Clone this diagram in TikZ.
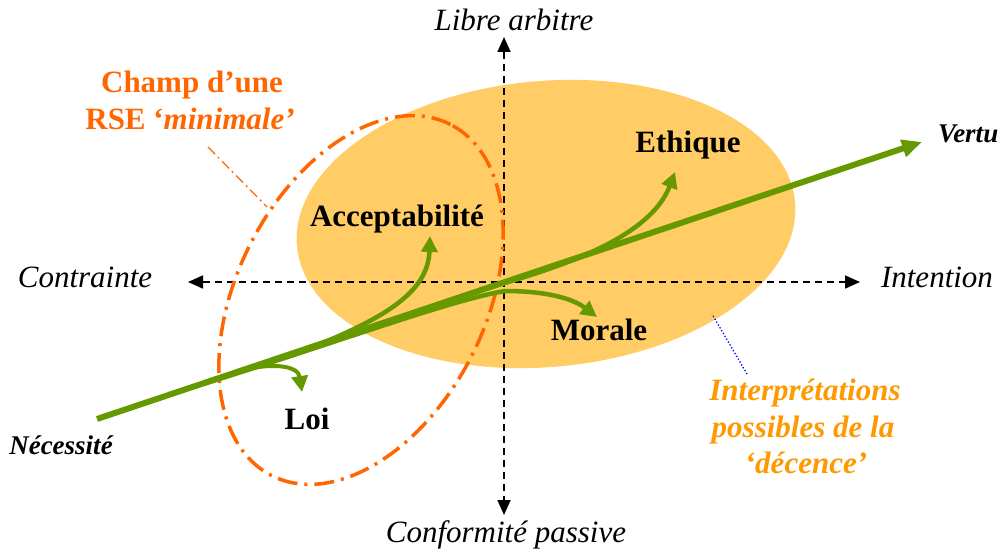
\documentclass[tikz,border=0pt]{standalone}
\usepackage{fontspec}
\setmainfont{Liberation Serif}
\usetikzlibrary{arrows.meta,shapes.geometric}
\definecolor{egg}{RGB}{255,204,102}
\definecolor{rse}{RGB}{255,102,0}
\definecolor{interp}{RGB}{255,153,0}
\definecolor{leaf}{RGB}{102,153,0}
\begin{document}
\begin{tikzpicture}[x=1pt,y=-1pt,
  axislbl/.style={font=\fontsize{31}{37}\selectfont\itshape, anchor=base, inner sep=0pt},
  termlbl/.style={font=\fontsize{31}{37}\selectfont\bfseries, anchor=base, inner sep=0pt},
  endlbl/.style={font=\fontsize{27}{32}\selectfont\bfseries\itshape, anchor=base, inner sep=0pt},
  rselbl/.style={font=\fontsize{31}{37}\selectfont\bfseries, text=rse, anchor=base, inner sep=0pt},
  interplbl/.style={font=\fontsize{31}{37}\selectfont\bfseries\itshape, text=interp, anchor=base, inner sep=0pt},
  axisline/.style={line width=1.8pt, dash pattern=on 7pt off 5pt, {Triangle[length=15pt,width=13pt]}-{Triangle[length=15pt,width=13pt]}},
  mainarrow/.style={leaf, line width=6pt, -{Triangle[length=20pt,width=17pt]}},
  brancharrow/.style={leaf, line width=4.5pt, -{Triangle[length=16pt,width=16pt]}},
  rseline/.style={draw=rse, line width=3.5pt, dash pattern=on 20pt off 7pt on 3pt off 7pt}
]
\useasboundingbox (0,0) rectangle (1000,553);

% big filled ellipse
\node[ellipse, fill=egg, minimum width=500pt, minimum height=286pt, inner sep=0pt, rotate=5] (decence) at (546,224) {};

% axes
\coordinate (top) at (504,37);
\coordinate (bot) at (504,515);
\coordinate (lft) at (188,282);
\coordinate (rgt) at (860,282);
\draw[axisline] (top) -- (bot);
\draw[axisline] (lft) -- (rgt);

% RSE minimal ellipse
\node[ellipse, rseline, minimum width=394pt, minimum height=248pt, inner sep=0pt, rotate=63] (rsefield) at (361,300) {};

% green arrows
\coordinate (nec) at (97,419);
\coordinate (vtip) at (922,142);
\coordinate (loitip) at (302,392);
\coordinate (acctip) at (430,236);
\coordinate (mortip) at (597,317);
\coordinate (ethtip) at (675,172);
\draw[mainarrow] (nec) -- (vtip);
\draw[brancharrow, line width=4pt] (235,372) .. controls (270,362) and (298,365) .. (loitip);
\draw[brancharrow] (320,344) .. controls (390,315) and (428,290) .. (acctip);
\draw[brancharrow] (200,385) .. controls (330,345) and (450,300) .. (505,291) .. controls (545,291) and (572,298) .. (mortip);
\draw[brancharrow] (480,290) .. controls (560,268) and (650,238) .. (ethtip);

% axis labels
\node[axislbl] (libre) at (514,31) {Libre arbitre};
\node[axislbl] (contr) at (85,287) {Contrainte};
\node[axislbl] (inten) at (937,287) {Intention};
\node[axislbl] (conf) at (506,542) {Conformité passive};

% terms
\node[termlbl] (ethique) at (688,153) {Ethique};
\node[termlbl] (accept) at (397,227) {Acceptabilité};
\node[termlbl] (morale) at (599,340) {Morale};
\node[termlbl] (loi) at (307,429) {Loi};
\node[endlbl] (necess) at (61,454) {Nécessité};
\node[endlbl, anchor=base west] (vertu) at (938,143) {Vertu};

% RSE label
\node[rselbl] (champ1) at (192,93) {Champ d’une};
\node[rselbl] (champ2) at (190,130) {RSE ‘\textit{minimale’}};
\coordinate (rselead) at (208,147);
\coordinate (rseend) at (267,207);
\draw[rse, line width=1.3pt, dash pattern=on 10pt off 4pt on 2pt off 4pt] (rselead) -- (rseend);

% interpretations label
\node[interplbl] (interp1) at (805,400) {Interprétations};
\node[interplbl] (interp2) at (803,437) {possibles de la};
\node[interplbl] (interp3) at (806,473) {‘décence’};
\coordinate (intlead) at (747,374);
\coordinate (intend) at (712,314);
\draw[blue, line width=1.3pt, dotted] (intlead) -- (intend);
\end{tikzpicture}
\end{document}
